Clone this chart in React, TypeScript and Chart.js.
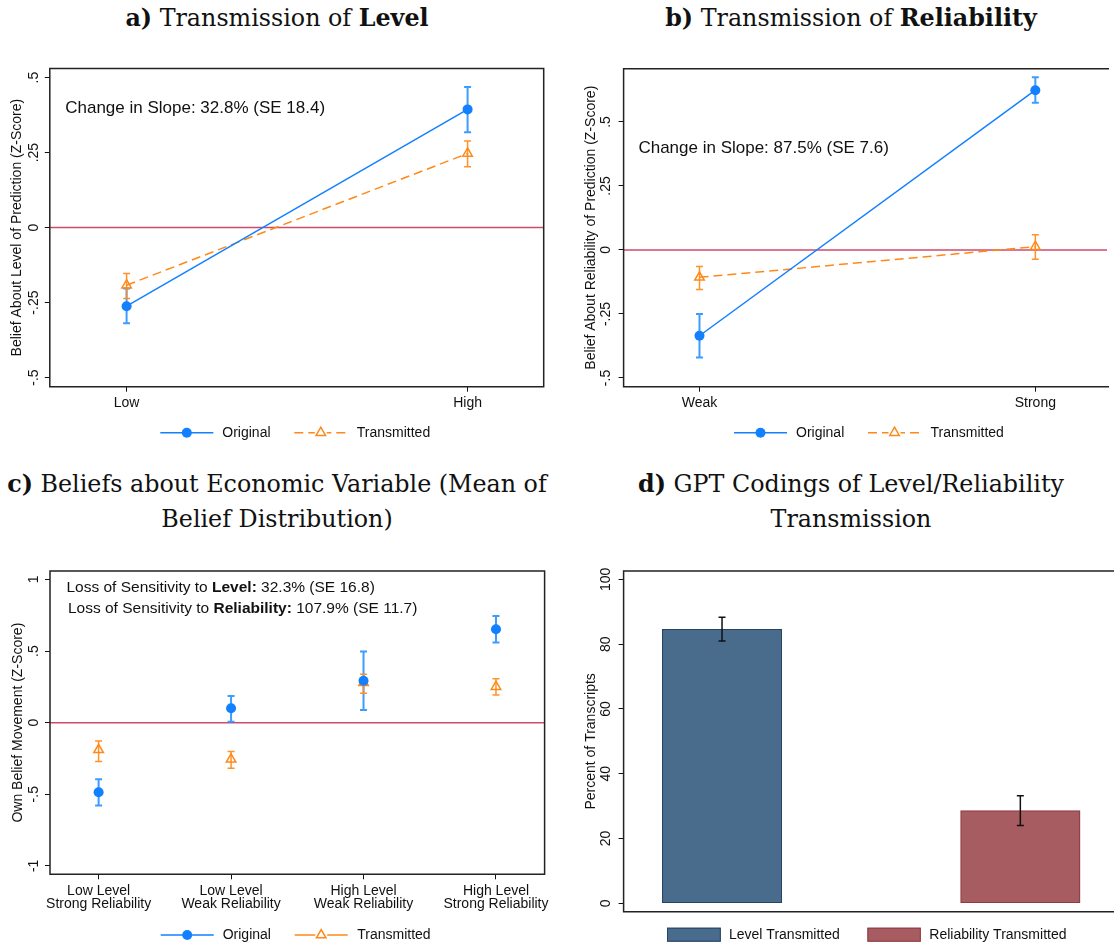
import React, { useEffect, useRef } from "react";
import { Chart, registerables } from "chart.js";

Chart.register(...registerables);

// ---------------- Data ----------------
// Panel a: Transmission of Level
const levelCats = ["Low", "High"];
const levelOrig = [-0.262, 0.394];
const levelOrigLo = [-0.319, 0.318];
const levelOrigHi = [-0.203, 0.469];
const levelTrans = [-0.192, 0.247];
const levelTransLo = [-0.236, 0.203];
const levelTransHi = [-0.153, 0.289];
const levelYTicks = [-0.5, -0.25, 0, 0.25, 0.5];
const levelYTickLabels = ["-.5", "-.25", "0", ".25", ".5"];

// Panel b: Transmission of Reliability
const relCats = ["Weak", "Strong"];
const relOrig = [-0.335, 0.624];
const relOrigLo = [-0.42, 0.575];
const relOrigHi = [-0.25, 0.675];
const relTrans = [-0.107, 0.013];
const relTransLo = [-0.154, -0.036];
const relTransHi = [-0.065, 0.059];
const relYTicks = [-0.5, -0.25, 0, 0.25, 0.5];
const relYTickLabels = ["-.5", "-.25", "0", ".25", ".5"];

// Panel c: Beliefs about economic variable
const beliefCats = [
  ["Low Level", "Strong Reliability"],
  ["Low Level", "Weak Reliability"],
  ["High Level", "Weak Reliability"],
  ["High Level", "Strong Reliability"],
];
const beliefOrig = [-0.486, 0.1, 0.293, 0.652];
const beliefOrigLo = [-0.579, 0.007, 0.089, 0.559];
const beliefOrigHi = [-0.395, 0.186, 0.496, 0.745];
const beliefTrans = [-0.19, -0.256, 0.279, 0.251];
const beliefTransLo = [-0.272, -0.319, 0.205, 0.193];
const beliefTransHi = [-0.128, -0.202, 0.338, 0.307];
const beliefYTicks = [-1, -0.5, 0, 0.5, 1];
const beliefYTickLabels = ["-1", "-.5", "0", ".5", "1"];

// Panel d: GPT codings
const gptCats = ["Level Transmitted", "Reliability Transmitted"];
const gptPct = [84.6, 28.6];
const gptLo = [81.0, 24.0];
const gptHi = [88.3, 33.2];
const gptYTicks = [0, 20, 40, 60, 80, 100];
const gptYTickLabels = ["0", "20", "40", "60", "80", "100"];

const seriesNames = ["Original", "Transmitted"];

// ---------------- Styles ----------------
const SANS = "'Liberation Sans', Arial, Helvetica, sans-serif";
const SERIF = "'DejaVu Serif', serif";
const BLUE = "rgb(18,128,255)";
const BLUE_CI = "rgba(40,145,255,0.9)";
const ORANGE = "rgb(255,137,24)";
const ORANGE_CI = "rgba(255,140,30,0.95)";
const REDLINE = "rgb(208,74,108)";
const BAR_FILL = ["rgb(73,107,140)", "rgb(166,92,97)"];
const BAR_EDGE = ["rgb(38,68,100)", "rgb(145,58,66)"];
const INK = "#111";
const CW = 557;

type TextPart = { t: string; bold?: boolean };
type Note = { x: number; y: number; size: number; parts: TextPart[] };
type ErrSet = { lo: number[]; hi: number[]; color: string; width: number; cap: number };
type LegendItem =
  | { kind: "line"; x1: number; x2: number; y: number; color: string; dash: number[]; marker: "circle" | "triangle"; label: string; tx: number }
  | { kind: "box"; x: number; y: number; w: number; h: number; fill: string; stroke: string; label: string; tx: number };
type Deco = {
  yTicks: number[];
  yTickLabels: string[];
  yTitle: string;
  tickLabelGap: number;
  titleGap: number;
  zeroLine: number | null;
  errors: ErrSet[];
  errorsOnTop: boolean;
  openRight: boolean;
  notes: Note[];
  legend: LegendItem[];
};

function drawTriangle(ctx: CanvasRenderingContext2D, x: number, y: number, r: number, color: string) {
  ctx.save();
  ctx.strokeStyle = color;
  ctx.lineWidth = 1.5;
  ctx.setLineDash([]);
  ctx.beginPath();
  let a = 0;
  ctx.moveTo(x + Math.sin(a) * r, y - Math.cos(a) * r);
  a += (2 * Math.PI) / 3;
  ctx.lineTo(x + Math.sin(a) * r, y - Math.cos(a) * r);
  a += (2 * Math.PI) / 3;
  ctx.lineTo(x + Math.sin(a) * r, y - Math.cos(a) * r);
  ctx.closePath();
  ctx.stroke();
  ctx.restore();
}

function drawErrors(chart: any, errs: ErrSet[]) {
  const { ctx, scales } = chart;
  const xs = scales.x;
  const ys = scales.y;
  ctx.save();
  ctx.setLineDash([]);
  errs.forEach((e) => {
    ctx.strokeStyle = e.color;
    ctx.lineWidth = e.width;
    e.lo.forEach((lo, i) => {
      const x = xs.getPixelForValue(i);
      const y1 = ys.getPixelForValue(lo);
      const y2 = ys.getPixelForValue(e.hi[i]);
      ctx.beginPath();
      ctx.moveTo(x, y1);
      ctx.lineTo(x, y2);
      ctx.moveTo(x - e.cap / 2, y1);
      ctx.lineTo(x + e.cap / 2, y1);
      ctx.moveTo(x - e.cap / 2, y2);
      ctx.lineTo(x + e.cap / 2, y2);
      ctx.stroke();
    });
  });
  ctx.restore();
}

function vText(ctx: CanvasRenderingContext2D, text: string, x: number, y: number) {
  ctx.save();
  ctx.translate(x, y);
  ctx.rotate(-Math.PI / 2);
  ctx.textAlign = "center";
  ctx.textBaseline = "middle";
  ctx.fillText(text, 0, 0);
  ctx.restore();
}

function makeDeco(d: Deco) {
  return {
    id: "deco",
    beforeDatasetsDraw(chart: any) {
      const { ctx, chartArea: ca, scales } = chart;
      if (d.zeroLine !== null) {
        const y = scales.y.getPixelForValue(d.zeroLine);
        ctx.save();
        ctx.strokeStyle = REDLINE;
        ctx.lineWidth = 1.5;
        ctx.beginPath();
        ctx.moveTo(ca.left, y);
        ctx.lineTo(ca.right, y);
        ctx.stroke();
        ctx.restore();
      }
      if (!d.errorsOnTop) drawErrors(chart, d.errors);
    },
    afterDatasetsDraw(chart: any) {
      if (d.errorsOnTop) drawErrors(chart, d.errors);
    },
    afterDraw(chart: any) {
      const { ctx, chartArea: ca, scales } = chart;
      ctx.save();
      // plot region box
      ctx.strokeStyle = "#222";
      ctx.lineWidth = 1.5;
      ctx.beginPath();
      if (d.openRight) {
        ctx.moveTo(ca.right + 2, ca.top);
        ctx.lineTo(ca.left, ca.top);
        ctx.lineTo(ca.left, ca.bottom);
        ctx.lineTo(ca.right + 2, ca.bottom);
      } else {
        ctx.rect(ca.left, ca.top, ca.right - ca.left, ca.bottom - ca.top);
      }
      ctx.stroke();
      // y tick labels (rotated, Stata style)
      ctx.fillStyle = INK;
      ctx.font = `14px ${SANS}`;
      d.yTicks.forEach((v, i) => {
        vText(ctx, d.yTickLabels[i], ca.left - d.tickLabelGap, scales.y.getPixelForValue(v));
      });
      // y title
      vText(ctx, d.yTitle, ca.left - d.titleGap, (ca.top + ca.bottom) / 2);
      // notes
      d.notes.forEach((n) => {
        let x = n.x;
        ctx.textBaseline = "middle";
        ctx.textAlign = "left";
        n.parts.forEach((p) => {
          ctx.font = `${p.bold ? "bold " : ""}${n.size}px ${SANS}`;
          ctx.fillText(p.t, x, n.y);
          x += ctx.measureText(p.t).width;
        });
      });
      // legend
      ctx.font = `14px ${SANS}`;
      ctx.textBaseline = "middle";
      ctx.textAlign = "left";
      d.legend.forEach((it) => {
        if (it.kind === "line") {
          ctx.save();
          ctx.strokeStyle = it.color;
          ctx.lineWidth = 1.5;
          ctx.setLineDash(it.dash);
          ctx.beginPath();
          ctx.moveTo(it.x1, it.y);
          ctx.lineTo(it.x2, it.y);
          ctx.stroke();
          ctx.restore();
          const mx = (it.x1 + it.x2) / 2;
          if (it.marker === "circle") {
            ctx.fillStyle = it.color;
            ctx.beginPath();
            ctx.arc(mx, it.y, 5, 0, Math.PI * 2);
            ctx.fill();
          } else {
            ctx.save();
            ctx.fillStyle = "#fff";
            ctx.fillRect(mx - 6, it.y - 6, 12, 10);
            ctx.restore();
            drawTriangle(ctx, mx, it.y, 5.5, it.color);
          }
          ctx.fillStyle = INK;
          ctx.fillText(it.label, it.tx, it.y);
        } else {
          ctx.fillStyle = it.fill;
          ctx.fillRect(it.x, it.y, it.w, it.h);
          ctx.strokeStyle = it.stroke;
          ctx.lineWidth = 1;
          ctx.strokeRect(it.x + 0.5, it.y + 0.5, it.w - 1, it.h - 1);
          ctx.fillStyle = INK;
          ctx.fillText(it.label, it.tx, it.y + it.h / 2);
        }
      });
      ctx.restore();
    },
  };
}

function xScale(cats: any[], min: number, max: number, h: number, pad: number, lh: number, show: boolean) {
  return {
    type: "linear",
    min,
    max,
    offset: false,
    afterBuildTicks: (s: any) => {
      s.ticks = cats.map((_: any, i: number) => ({ value: i }));
    },
    ticks: {
      display: show,
      callback: (v: any) => cats[Math.round(Number(v))],
      font: { family: SANS, size: 14, lineHeight: lh },
      color: INK,
      padding: pad,
      autoSkip: false,
      maxRotation: 0,
      minRotation: 0,
    },
    grid: { display: show, offset: false, drawOnChartArea: false, drawTicks: true, tickLength: 5, color: INK, lineWidth: 1 },
    border: { display: false },
    afterFit: (s: any) => {
      s.height = h;
      s.paddingLeft = 0;
      s.paddingRight = 0;
    },
  };
}

function yScale(ticks: number[], min: number, max: number, w: number) {
  return {
    type: "linear",
    min,
    max,
    afterBuildTicks: (s: any) => {
      s.ticks = ticks.map((v) => ({ value: v }));
    },
    ticks: { display: false },
    grid: { display: true, drawOnChartArea: false, drawTicks: true, tickLength: 5, color: INK, lineWidth: 1 },
    border: { display: false },
    afterFit: (s: any) => {
      s.width = w;
      s.paddingTop = 0;
      s.paddingBottom = 0;
    },
  };
}

function baseOptions(padTop: number, padRight: number) {
  return {
    responsive: false,
    maintainAspectRatio: false,
    animation: false,
    events: [],
    layout: { padding: { top: padTop, right: padRight, left: 0, bottom: 0 } },
    plugins: { legend: { display: false }, tooltip: { enabled: false }, title: { display: false } },
  };
}

function pts(vals: number[]) {
  return vals.map((v, i) => ({ x: i, y: v }));
}

function seriesDatasets(orig: number[], trans: number[], showLine: boolean, dashTrans: boolean) {
  return [
    {
      label: seriesNames[0],
      data: pts(orig),
      showLine,
      borderColor: BLUE,
      borderWidth: 1.5,
      pointStyle: "circle",
      pointRadius: 5,
      pointBackgroundColor: BLUE,
      pointBorderColor: BLUE,
      pointBorderWidth: 0,
    },
    {
      label: seriesNames[1],
      data: pts(trans),
      showLine,
      borderColor: ORANGE,
      borderWidth: 1.5,
      borderDash: dashTrans ? [9, 5] : [],
      pointStyle: "triangle",
      pointRadius: 5.5,
      pointBackgroundColor: "rgba(255,255,255,0)",
      pointBorderColor: ORANGE,
      pointBorderWidth: 1.5,
    },
  ];
}

function lineLegend(y: number, x0: number, dashed: boolean): LegendItem[] {
  return [
    { kind: "line", x1: x0, x2: x0 + 53, y, color: BLUE, dash: [], marker: "circle", label: seriesNames[0], tx: x0 + 62 },
    { kind: "line", x1: x0 + 134, x2: x0 + 187, y, color: ORANGE, dash: dashed ? [9, 5] : [], marker: "triangle", label: seriesNames[1], tx: x0 + 196.5 },
  ];
}

// ---------------- Chart configs ----------------
const configA: any = {
  type: "line",
  data: { datasets: seriesDatasets(levelOrig, levelTrans, true, true) },
  options: {
    ...baseOptions(18.5, 13.3),
    scales: {
      x: xScale(levelCats, -0.2252, 1.2232, 73.3, 3, 1.2, true),
      y: yScale(levelYTicks, -0.5303, 0.5303, 49.8),
    },
  },
  plugins: [
    makeDeco({
      yTicks: levelYTicks,
      yTickLabels: levelYTickLabels,
      yTitle: "Belief About Level of Prediction (Z-Score)",
      tickLabelGap: 16,
      titleGap: 32.3,
      zeroLine: 0,
      errors: [
        { lo: levelOrigLo, hi: levelOrigHi, color: BLUE_CI, width: 2, cap: 7 },
        { lo: levelTransLo, hi: levelTransHi, color: ORANGE_CI, width: 1.5, cap: 7 },
      ],
      errorsOnTop: false,
      openRight: false,
      notes: [{ x: 65.2, y: 58, size: 17, parts: [{ t: "Change in Slope: 32.8% (SE 18.4)" }] }],
      legend: lineLegend(382.7, 160.3, true),
    }),
  ],
};

const configB: any = {
  type: "line",
  data: { datasets: seriesDatasets(relOrig, relTrans, true, true) },
  options: {
    ...baseOptions(18.7, 0),
    scales: {
      x: xScale(relCats, -0.226, 1.2134, 73.3, 3, 1.2, true),
      y: yScale(relYTicks, -0.534, 0.708, 66.6),
    },
  },
  plugins: [
    makeDeco({
      yTicks: relYTicks,
      yTickLabels: relYTickLabels,
      yTitle: "Belief About Reliability of Prediction (Z-Score)",
      tickLabelGap: 17.6,
      titleGap: 32.6,
      zeroLine: 0,
      errors: [
        { lo: relOrigLo, hi: relOrigHi, color: BLUE_CI, width: 2, cap: 7 },
        { lo: relTransLo, hi: relTransHi, color: ORANGE_CI, width: 1.5, cap: 7 },
      ],
      errorsOnTop: false,
      openRight: true,
      notes: [{ x: 81.4, y: 98.3, size: 17, parts: [{ t: "Change in Slope: 87.5% (SE 7.6)" }] }],
      legend: lineLegend(382.7, 177, true),
    }),
  ],
};

const configC: any = {
  type: "line",
  data: { datasets: seriesDatasets(beliefOrig, beliefTrans, false, false) },
  options: {
    ...baseOptions(16, 12.4),
    scales: {
      x: xScale(beliefCats, -0.367, 3.367, 72.7, 4.7, 0.95, true),
      y: yScale(beliefYTicks, -1.059, 1.059, 50),
    },
  },
  plugins: [
    makeDeco({
      yTicks: beliefYTicks,
      yTickLabels: beliefYTickLabels,
      yTitle: "Own Belief Movement (Z-Score)",
      tickLabelGap: 15.4,
      titleGap: 32,
      zeroLine: 0,
      errors: [
        { lo: beliefOrigLo, hi: beliefOrigHi, color: BLUE_CI, width: 2, cap: 7 },
        { lo: beliefTransLo, hi: beliefTransHi, color: ORANGE_CI, width: 1.5, cap: 7 },
      ],
      errorsOnTop: false,
      openRight: false,
      notes: [
        {
          x: 66.4,
          y: 32.7,
          size: 15.5,
          parts: [{ t: "Loss of Sensitivity to " }, { t: "Level:", bold: true }, { t: " 32.3% (SE 16.8)" }],
        },
        {
          x: 67.9,
          y: 54,
          size: 15.5,
          parts: [{ t: "Loss of Sensitivity to " }, { t: "Reliability:", bold: true }, { t: " 107.9% (SE 11.7)" }],
        },
      ],
      legend: lineLegend(380, 160.7, false),
    }),
  ],
};

const configD: any = {
  type: "bar",
  data: {
    datasets: gptCats.map((c, i) => ({
      label: c,
      data: [{ x: i, y: gptPct[i] }],
      backgroundColor: BAR_FILL[i],
      borderColor: BAR_EDGE[i],
      borderWidth: 1.2,
      borderSkipped: false,
      grouped: false,
      barThickness: 119.5,
    })),
  },
  options: {
    ...baseOptions(16, 0),
    scales: {
      x: xScale(gptCats, -0.33, 1.314, 35.3, 0, 1.2, false),
      y: yScale(gptYTicks, -2.6, 102.6, 66.6),
    },
  },
  plugins: [
    makeDeco({
      yTicks: gptYTicks,
      yTickLabels: gptYTickLabels,
      yTitle: "Percent of Transcripts",
      tickLabelGap: 17.6,
      titleGap: 32.6,
      zeroLine: null,
      errors: [{ lo: gptLo, hi: gptHi, color: "#111", width: 1.5, cap: 7 }],
      errorsOnTop: true,
      openRight: true,
      notes: [],
      legend: [
        { kind: "box", x: 110, y: 372.7, w: 53.8, h: 14, fill: BAR_FILL[0], stroke: BAR_EDGE[0], label: gptCats[0], tx: 172 },
        { kind: "box", x: 310.4, y: 372.7, w: 53.4, h: 14, fill: BAR_FILL[1], stroke: BAR_EDGE[1], label: gptCats[1], tx: 372.3 },
      ],
    }),
  ],
};

function titleStyle(cx: number, top: number): React.CSSProperties {
  return {
    position: "absolute",
    left: cx - 300,
    top,
    width: 600,
    textAlign: "center",
    fontFamily: SERIF,
    fontSize: 23.8,
    lineHeight: "35px",
    color: "#111",
    whiteSpace: "nowrap",
  };
}

export default function App() {
  const refA = useRef<HTMLCanvasElement>(null);
  const refB = useRef<HTMLCanvasElement>(null);
  const refC = useRef<HTMLCanvasElement>(null);
  const refD = useRef<HTMLCanvasElement>(null);

  useEffect(() => {
    const charts = [
      new Chart(refA.current!, configA),
      new Chart(refB.current!, configB),
      new Chart(refC.current!, configC),
      new Chart(refD.current!, configD),
    ];
    return () => charts.forEach((c) => c.destroy());
  }, []);

  return (
    <div style={{ position: "absolute", left: 0, top: 0, width: 1114, height: 947, overflow: "hidden", background: "#fff" }}>
      <div style={titleStyle(277, 1)}>
        <b>a)</b> Transmission of <b>Level</b>
      </div>
      <div style={titleStyle(851, 1)}>
        <b>b)</b> Transmission of <b>Reliability</b>
      </div>
      <div style={titleStyle(277, 466.5)}>
        <b>c)</b> Beliefs about Economic Variable (Mean of
        <br />
        Belief Distribution)
      </div>
      <div style={titleStyle(851, 466.5)}>
        <b>d)</b> GPT Codings of Level/Reliability
        <br />
        Transmission
      </div>
      <canvas ref={refA} width={CW} height={410} style={{ position: "absolute", left: 0, top: 50 }} />
      <canvas ref={refB} width={CW} height={410} style={{ position: "absolute", left: 557, top: 50 }} />
      <canvas ref={refC} width={CW} height={392} style={{ position: "absolute", left: 0, top: 555 }} />
      <canvas ref={refD} width={CW} height={392} style={{ position: "absolute", left: 557, top: 555 }} />
    </div>
  );
}
